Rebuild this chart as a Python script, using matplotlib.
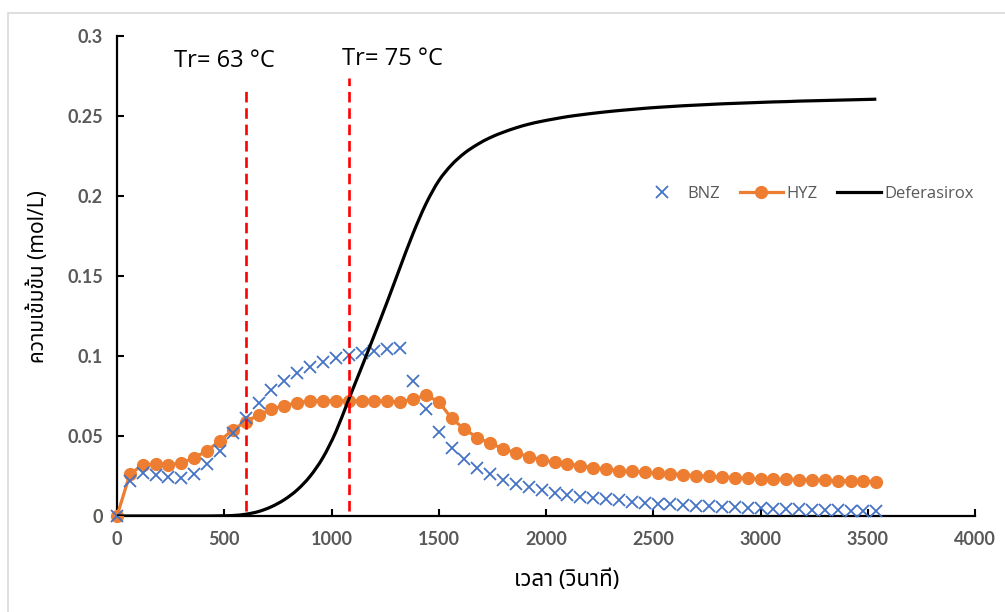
import matplotlib
matplotlib.use("Agg")
import matplotlib.pyplot as plt
from matplotlib import font_manager
from matplotlib.patches import Rectangle, PathPatch
from matplotlib.path import Path

# ---- data -------------------------------------------------------------
time_s = list(range(0, 3600, 60))

bnz = [0.0, 0.022, 0.0267, 0.0256, 0.0242, 0.0238, 0.026, 0.0323, 0.0406, 0.0519,
       0.061, 0.0708, 0.0788, 0.0844, 0.0892, 0.0933, 0.0965, 0.0985, 0.1006, 0.1021,
       0.1033, 0.1044, 0.1048, 0.0846, 0.0669, 0.0525, 0.0423, 0.0354, 0.0302, 0.026,
       0.0225, 0.0202, 0.018, 0.0163, 0.0146, 0.0132, 0.0121, 0.0111, 0.0104, 0.0097,
       0.009, 0.0084, 0.0077, 0.0073, 0.0068, 0.0064, 0.006, 0.0057, 0.0054, 0.0051,
       0.0048, 0.0046, 0.0044, 0.0042, 0.004, 0.0038, 0.0036, 0.0034, 0.0033, 0.0031]

hyz = [0.0, 0.0262, 0.0319, 0.0325, 0.0321, 0.0331, 0.0365, 0.0408, 0.0471, 0.0538,
       0.059, 0.0631, 0.0667, 0.069, 0.0708, 0.0719, 0.0721, 0.0721, 0.0721, 0.0721,
       0.0719, 0.0717, 0.0715, 0.0729, 0.0754, 0.0715, 0.061, 0.0542, 0.049, 0.0454,
       0.0421, 0.0394, 0.0371, 0.0352, 0.0335, 0.0325, 0.0315, 0.0302, 0.0294, 0.0283,
       0.0279, 0.0273, 0.0267, 0.0265, 0.0258, 0.0252, 0.0248, 0.0244, 0.024, 0.0235,
       0.0233, 0.0231, 0.023, 0.0227, 0.0225, 0.0223, 0.0221, 0.0219, 0.0217, 0.0215]

deferasirox = [0.0, 0.0, 0.0, 0.0, 0.0, 0.0, 0.0, 0.0, 0.0001, 0.0003,
               0.0011, 0.0028, 0.0058, 0.0102, 0.0163, 0.0248, 0.0365, 0.0525, 0.0728, 0.0928,
               0.1132, 0.134, 0.1555, 0.1765, 0.195, 0.2095, 0.2195, 0.2268, 0.2322, 0.2365,
               0.2398, 0.2426, 0.2449, 0.2467, 0.2482, 0.2496, 0.2507, 0.2517, 0.2526, 0.2534,
               0.2541, 0.2548, 0.2554, 0.2559, 0.2564, 0.2568, 0.2572, 0.2576, 0.2579, 0.2582,
               0.2585, 0.2588, 0.259, 0.2593, 0.2595, 0.2597, 0.2599, 0.2601, 0.2603, 0.2605]

tr_times = [600, 1080]
tr_labels = ["Tr= 63 °C", "Tr= 75 °C"]
tr_label_pos = [(268, 0.2845), (1050, 0.2858)]
tr_line_top = [0.269, 0.274]

x_ticks = [0, 500, 1000, 1500, 2000, 2500, 3000, 3500, 4000]
y_ticks = [0, 0.05, 0.1, 0.15, 0.2, 0.25, 0.3]
y_tick_labels = ["0", "0.05", "0.1", "0.15", "0.2", "0.25", "0.3"]

x_label = "เวลา (วินาที)"
y_label = "ความเข้มข้น (mol/L)"


def find_thai_family():
    """Return an installed family that covers Thai script, if any."""
    try:
        from fontTools.ttLib import TTFont
    except Exception:
        return None
    found = []
    for entry in font_manager.fontManager.ttflist:
        try:
            f = TTFont(entry.fname, fontNumber=0, lazy=True)
            cmap = f.getBestCmap() or {}
            if 0x0E27 in cmap and 0x0E49 in cmap:
                found.append(entry.name)
        except Exception:
            continue
    if not found:
        return None
    for pref in ("Noto Sans Thai", "Noto Sans Thai UI", "Loma", "Garuda", "Sarabun",
                 "Tahoma", "Leelawadee UI"):
        if pref in found:
            return pref
    return found[0]


def smooth_path(xs, ys):
    """Catmull-Rom style cubic Bezier path through the points (smoothed line)."""
    pts = list(zip(xs, ys))
    verts = [pts[0]]
    codes = [Path.MOVETO]
    n = len(pts)
    for i in range(n - 1):
        p0 = pts[i - 1] if i > 0 else pts[i]
        p1 = pts[i]
        p2 = pts[i + 1]
        p3 = pts[i + 2] if i + 2 < n else pts[i + 1]
        c1 = (p1[0] + (p2[0] - p0[0]) / 6.0, p1[1] + (p2[1] - p0[1]) / 6.0)
        c2 = (p2[0] - (p3[0] - p1[0]) / 6.0, p2[1] - (p3[1] - p1[1]) / 6.0)
        verts += [c1, c2, p2]
        codes += [Path.CURVE4] * 3
    return Path(verts, codes)


thai = find_thai_family()
thai_fams = ([thai] if thai else []) + ["Open Sans", "DejaVu Sans"]

BLUE = "#4472C4"
ORANGE = "#ED7D31"
GREY = "#595959"

fig = plt.figure(figsize=(10.05, 6.12), dpi=100)
fig.patch.set_facecolor("white")
fig.add_artist(Rectangle((8 / 1005, -0.01), 1.0, 1 - 13 / 612 + 0.01,
                         transform=fig.transFigure, fill=False,
                         edgecolor="#d9d9d9", linewidth=1.2))

ax = fig.add_axes([117 / 1005, 1 - 516 / 612, (975 - 117) / 1005, (516 - 36) / 612])

ax.plot(time_s, hyz, color=ORANGE, lw=2.3, marker="o", ms=8.5,
        label="HYZ", zorder=3, clip_on=False)
ax.plot(time_s, bnz, color=BLUE, lw=0, marker="x", ms=9, mew=1.3,
        label="BNZ", zorder=4, clip_on=False)

# smoothed model curve, plus an invisible line for the legend entry
ax.add_patch(PathPatch(smooth_path(time_s, deferasirox), facecolor="none",
                       edgecolor="black", lw=2.3, zorder=5, capstyle="butt"))
ax.plot([], [], color="black", lw=2.3, label="Deferasirox")

for t, top in zip(tr_times, tr_line_top):
    ax.plot([t, t], [0.003, top], color="red", lw=1.9, ls=(0, (4.0, 2.2)), zorder=6)
for (tx, ty), txt in zip(tr_label_pos, tr_labels):
    ax.text(tx, ty, txt, fontsize=17, color="black", ha="left", va="center",
            family=["Open Sans", "DejaVu Sans"])

ax.set_xlim(0, 4000)
ax.set_ylim(0, 0.3)
ax.set_xticks(x_ticks)
ax.set_yticks(y_ticks)
ax.set_yticklabels(y_tick_labels)
for spine in ("top", "right"):
    ax.spines[spine].set_visible(False)
for spine in ("left", "bottom"):
    ax.spines[spine].set_linewidth(1.6)
    ax.spines[spine].set_color("black")
ax.tick_params(direction="in", length=5, width=1.5, color="black",
               labelsize=13, labelcolor=GREY)
ax.tick_params(axis="x", pad=11)
ax.tick_params(axis="y", pad=10)
for lab in ax.get_xticklabels() + ax.get_yticklabels():
    lab.set_fontweight("bold")
    lab.set_family(["Lato", "DejaVu Sans"])

fig.text(567 / 1005, 1 - 580 / 612, x_label, fontsize=16, family=thai_fams,
         ha="center", va="center", color="black")
fig.text(38 / 1005, 1 - 277 / 612, y_label, fontsize=15, family=thai_fams,
         fontweight="bold", rotation=90, ha="center", va="center", color="black")

handles, labels = ax.get_legend_handles_labels()
order = [labels.index(n) for n in ("BNZ", "HYZ", "Deferasirox")]
leg = fig.legend([handles[i] for i in order], [labels[i] for i in order],
                 loc="center", bbox_to_anchor=(807 / 1005, 1 - 194 / 612),
                 ncol=3, frameon=False, handlelength=2.6,
                 handletextpad=0.2, columnspacing=1.2,
                 prop={"family": ["Open Sans", "DejaVu Sans"], "size": 12})
for t in leg.get_texts():
    t.set_color(GREY)

fig.savefig("out.png", dpi=100, facecolor="white")
